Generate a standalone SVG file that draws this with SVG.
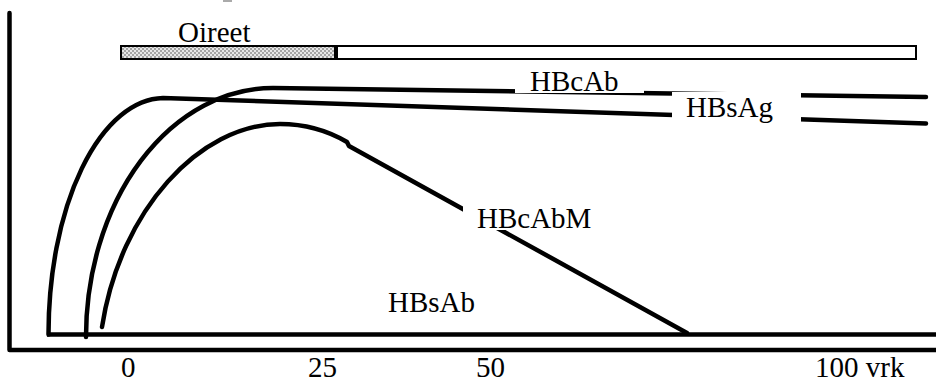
<svg xmlns="http://www.w3.org/2000/svg" width="936" height="383" viewBox="0 0 936 383">
<style>
.ln{fill:none;stroke:#000;stroke-width:4.5;stroke-linejoin:round}
.t{font-family:"Liberation Serif","Times New Roman",serif;font-size:29px;fill:#000}
.bar{stroke:#000;stroke-width:2}
.mask{fill:#fff;stroke:none}
</style>
<defs>
<pattern id="dots" width="4" height="4" patternUnits="userSpaceOnUse">
<rect width="4" height="4" fill="#a4a4a4"/>
<rect x="0" y="0" width="2" height="2" fill="#e6e6e6"/>
<rect x="2" y="2" width="2" height="2" fill="#e6e6e6"/>
</pattern>
</defs>
<rect x="0" y="0" width="936" height="383" fill="#fff"/>
<rect x="223" y="0" width="9" height="2" fill="#aaa"/>
<g id="axes">
<path class="ln" d="M9.5,13 V350 H936" stroke-linecap="round"/>
</g>
<g id="oireet">
<rect class="bar" x="121" y="46" width="214" height="13" fill="url(#dots)"/>
<rect class="bar" x="337" y="46" width="579" height="13" fill="#fff"/>
<text class="t" x="178" y="42">Oireet</text>
</g>
<g id="connectors">
<path id="hbsab-line" class="ln" d="M47,334.5 H936" stroke-linecap="butt"/>
<path id="hbsag-line" class="ln" d="M48.5,334.5 A116,236 0 0 1 163,98 L926,123.5" stroke-linecap="round"/>
<path id="hbcab-line" class="ln" d="M86,337 A187,249 0 0 1 273,88 L926,97" stroke-linecap="round"/>
<path id="hbcabm-line" class="ln" d="M102,327 C120,210 200,124 280,124 C310,124 330,132 347,142 L349,146 L687,333" stroke-linecap="round"/>
</g>
<g id="hbcab">
<rect class="mask" x="515" y="68" width="129" height="25"/>
<text class="t" x="530" y="90.5">HBcAb</text>
</g>
<g id="hbsag">
<rect class="mask" x="672" y="92" width="129" height="40"/>
<text class="t" x="686" y="117">HBsAg</text>
</g>
<g id="hbcabm">
<rect class="mask" x="463" y="198" width="150" height="32"/>
<text class="t" x="477" y="228">HBcAbM</text>
</g>
<g id="hbsab">
<text class="t" x="388" y="312">HBsAb</text>
</g>
<g id="xlabels">
<text class="t" x="121" y="377">0</text>
<text class="t" x="308" y="377">25</text>
<text class="t" x="476" y="377">50</text>
<text class="t" x="815" y="377">100 vrk</text>
</g>
</svg>
